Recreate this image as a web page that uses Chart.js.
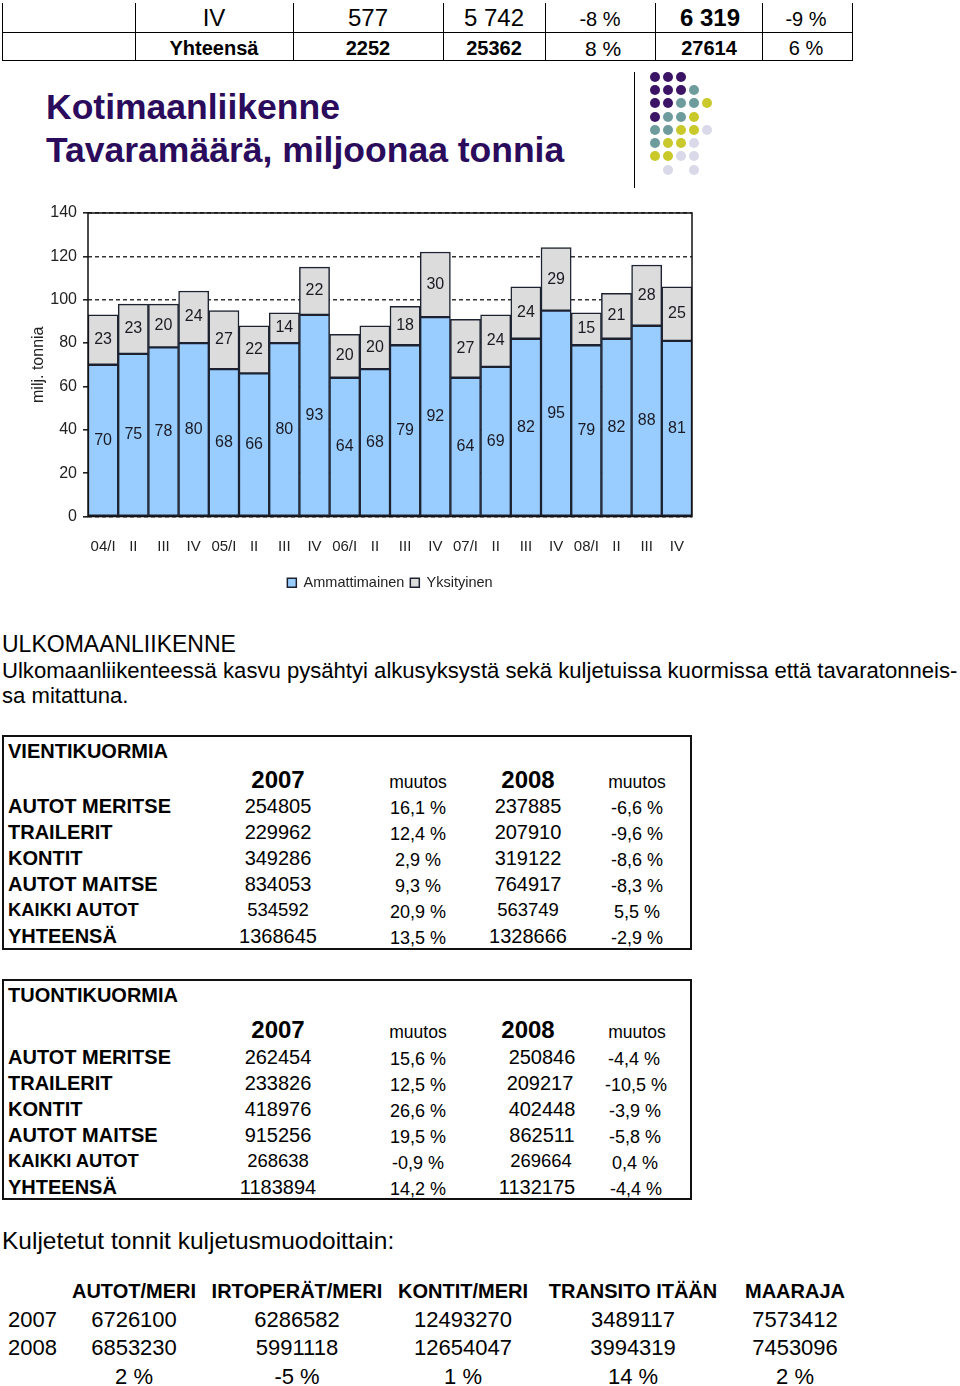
<!DOCTYPE html>
<html>
<head>
<meta charset="utf-8">
<script src="https://cdn.jsdelivr.net/npm/chart.js@4.4.0/dist/chart.umd.min.js"></script>
<style>
html,body{margin:0;padding:0;background:#fff;}
body{width:960px;height:1386px;position:relative;overflow:hidden;font-family:"Liberation Sans",Arial,Helvetica,sans-serif;color:#000;}
.t{position:absolute;white-space:nowrap;}
.ln{position:absolute;background:#000;}
#chartWrap{position:absolute;left:0;top:196px;width:720px;height:404px;}
.box{position:absolute;border:2px solid #111;box-sizing:border-box;}
.dot{position:absolute;width:10px;height:10px;border-radius:50%;}
</style>
</head>
<body>
<div id="chartWrap"><canvas id="c" width="720" height="404" style="width:720px;height:404px;"></canvas></div>
<script>
// ---- chart data ----
const categories = ["04/I","II","III","IV","05/I","II","III","IV","06/I","II","III","IV","07/I","II","III","IV","08/I","II","III","IV"];
const ammattimainen = [70,75,78,80,68,66,80,93,64,68,79,92,64,69,82,95,79,82,88,81];
const yksityinen = [23,23,20,24,27,22,14,22,20,20,18,30,27,24,24,29,15,21,28,25];
const yTicks = [0,20,40,60,80,100,120,140];
const seriesNames = ["Ammattimainen","Yksityinen"];

// ---- page text helpers ----
function put(txt, x, y, size, opts){
  opts = opts || {};
  const d = document.createElement('div');
  d.className = 't';
  d.textContent = txt;
  const lh = Math.round(size*1.2);
  d.style.fontSize = size+'px';
  d.style.lineHeight = lh+'px';
  d.style.top = (y - lh/2) + 'px';
  if (opts.bold) d.style.fontWeight = 'bold';
  if (opts.color) d.style.color = opts.color;
  if (opts.align === 'c') { d.style.left = (x-200)+'px'; d.style.width='400px'; d.style.textAlign='center'; }
  else if (opts.align === 'r') { d.style.left = (x-400)+'px'; d.style.width='400px'; d.style.textAlign='right'; }
  else d.style.left = x+'px';
  document.body.appendChild(d);
}
function line(x,y,w,h){
  const d=document.createElement('div'); d.className='ln';
  d.style.left=x+'px'; d.style.top=y+'px'; d.style.width=w+'px'; d.style.height=h+'px';
  document.body.appendChild(d);
}

// top table fragment
[2,135,293,443,545,655,762,852].forEach(x=>line(x,3,1,58));
line(2,32,851,1); line(2,60,851,1);
put("IV",214,17,24,{align:'c'});
put("577",368,17,24,{align:'c'});
put("5 742",494,17,24,{align:'c'});
put("-8 %",600,19,20,{align:'c'});
put("6 319",710,17,24,{align:'c',bold:true});
put("-9 %",806,19,20,{align:'c'});
put("Yhteensä",214,48,20,{align:'c',bold:true});
put("2252",368,48,20,{align:'c',bold:true});
put("25362",494,48,20,{align:'c',bold:true});
put("8 %",603,48,21,{align:'c'});
put("27614",709,48,20,{align:'c',bold:true});
put("6 %",806,48,20,{align:'c'});

// title
put("Kotimaanliikenne",46,107,35.5,{bold:true,color:'#2a0b5c'});
put("Tavaramäärä, miljoonaa tonnia",46,150,35.5,{bold:true,color:'#2a0b5c'});
line(634,72,1,116);

// decorative dots
const P='#3b1466', T='#6e9b9b', Y='#c9c92b', L='#d9d9ea';
const dotGrid = [
  [P,P,P,null,null],
  [P,P,P,T,null],
  [P,P,T,T,Y],
  [P,T,T,Y,null],
  [T,T,Y,Y,L],
  [T,Y,Y,L,null],
  [Y,Y,L,L,null],
  [null,L,null,L,null]
];
const dotX=[655,668,681,694,707], dotY=[77,90,103,117,130,143,156,170];
dotGrid.forEach((row,r)=>row.forEach((c,k)=>{ if(!c) return;
  const d=document.createElement('div'); d.className='dot'; d.style.background=c;
  d.style.left=(dotX[k]-5)+'px'; d.style.top=(dotY[r]-5)+'px'; document.body.appendChild(d);}));

// ULKOMAANLIIKENNE
put("ULKOMAANLIIKENNE",2,644,23);
put("Ulkomaanliikenteessä kasvu pysähtyi alkusyksystä sekä kuljetuissa kuormissa että tavaratonneis-",2,670,22.1);
put("sa mitattuna.",2,695,22.1);

// boxed tables
function tableBox(top, h, title, rows, ys, hdrY){
  const b=document.createElement('div'); b.className='box';
  b.style.left='2px'; b.style.top=top+'px'; b.style.width='690px'; b.style.height=h+'px';
  document.body.appendChild(b);
  put(title,8,top+16,20,{bold:true});
  put("2007",278,hdrY,24,{align:'c',bold:true});
  put("muutos",418,hdrY+3,17.5,{align:'c'});
  put("2008",528,hdrY,24,{align:'c',bold:true});
  put("muutos",637,hdrY+3,17.5,{align:'c'});
  rows.forEach((r,i)=>{
    const y=ys[i]; const small = r[0]==="KAIKKI AUTOT";
    put(r[0],8,y,small?18.4:20,{bold:true});
    put(r[1],278,y,small?18.5:20,{align:'c'});
    put(r[2],418,y+2,18,{align:'c'});
    put(r[3],r[5]||528,y,small?18.5:20,{align:'c'});
    put(r[4],r[6]||637,y+2,18,{align:'c'});
  });
}
tableBox(735,215,"VIENTIKUORMIA",[
  ["AUTOT MERITSE","254805","16,1 %","237885","-6,6 %"],
  ["TRAILERIT","229962","12,4 %","207910","-9,6 %"],
  ["KONTIT","349286","2,9 %","319122","-8,6 %"],
  ["AUTOT MAITSE","834053","9,3 %","764917","-8,3 %"],
  ["KAIKKI AUTOT","534592","20,9 %","563749","5,5 %"],
  ["YHTEENSÄ","1368645","13,5 %","1328666","-2,9 %"]
],[806,832,858,884,910,936],779);
tableBox(979,221,"TUONTIKUORMIA",[
  ["AUTOT MERITSE","262454","15,6 %","250846","-4,4 %",542,634],
  ["TRAILERIT","233826","12,5 %","209217","-10,5 %",540,636],
  ["KONTIT","418976","26,6 %","402448","-3,9 %",542,635],
  ["AUTOT MAITSE","915256","19,5 %","862511","-5,8 %",542,635],
  ["KAIKKI AUTOT","268638","-0,9 %","269664","0,4 %",541,635],
  ["YHTEENSÄ","1183894","14,2 %","1132175","-4,4 %",537,636]
],[1057,1083,1109,1135,1161,1187],1029);

// bottom table
put("Kuljetetut tonnit kuljetusmuodoittain:",2,1240,24.5);
const colX=[134,297,463,633,795];
["AUTOT/MERI","IRTOPERÄT/MERI","KONTIT/MERI","TRANSITO ITÄÄN","MAARAJA"].forEach((h,i)=>put(h,colX[i],1291,20,{align:'c',bold:true}));
put("2007",8,1320,22); put("2008",8,1348,22);
["6726100","6286582","12493270","3489117","7573412"].forEach((v,i)=>put(v,colX[i],1320,22,{align:'c'}));
["6853230","5991118","12654047","3994319","7453096"].forEach((v,i)=>put(v,colX[i],1348,22,{align:'c'}));
["2 %","-5 %","1 %","14 %","2 %"].forEach((v,i)=>put(v,colX[i],1377,22,{align:'c'}));

// ---- chart ----
const FONT = "'Liberation Sans', Arial, sans-serif";
const borderPlugin = {
  id:'areaBorder',
  afterDatasetsDraw(chart){
    const a=chart.chartArea, ctx=chart.ctx;
    ctx.save(); ctx.strokeStyle='#111'; ctx.lineWidth=1.5;
    ctx.strokeRect(a.left, a.top, a.right-a.left, a.bottom-a.top);
    ctx.restore();
  }
};
const labelPlugin = {
  id:'barLabels',
  afterDatasetsDraw(chart){
    const ctx=chart.ctx; ctx.save();
    ctx.font = "16px "+FONT; ctx.fillStyle='#1a1a22';
    ctx.textAlign='center'; ctx.textBaseline='middle';
    chart.data.datasets.forEach((ds,di)=>{
      const meta=chart.getDatasetMeta(di);
      meta.data.forEach((el,i)=>{
        const p=el.getProps(['x','y','base'],true);
        ctx.fillText(String(ds.data[i]), p.x, (p.y+p.base)/2);
      });
    });
    ctx.restore();
  }
};
new Chart(document.getElementById('c'), {
  type:'bar',
  data:{
    labels:categories,
    datasets:[
      {label:seriesNames[0], data:ammattimainen, backgroundColor:'#99ccff', borderColor:'#1c2230', borderWidth:1.5, borderSkipped:false, barPercentage:1, categoryPercentage:1},
      {label:seriesNames[1], data:yksityinen, backgroundColor:'#dcdcdc', borderColor:'#1c2230', borderWidth:1.5, borderSkipped:false, barPercentage:1, categoryPercentage:1}
    ]
  },
  options:{
    responsive:false, animation:false, devicePixelRatio:1,
    layout:{padding:{top:17,right:28,left:0,bottom:0}},
    plugins:{
      tooltip:{enabled:false},
      legend:{
        position:'bottom', fullSize:false,
        labels:{boxWidth:9, boxHeight:9, padding:6, color:'#222', font:{size:14.5, family:FONT}}
      }
    },
    scales:{
      x:{
        stacked:true,
        grid:{display:false, drawTicks:false},
        border:{display:false},
        ticks:{color:'#222', font:{size:15, family:FONT}, padding:21, maxRotation:0, autoSkip:false},
        afterFit(s){ s.height=53; }
      },
      y:{
        stacked:true, min:0, max:140,
        afterBuildTicks(s){ s.ticks = yTicks.map(v=>({value:v})); },
        grid:{color:'#333', lineWidth:1.6, drawTicks:true, tickLength:5, tickBorderDash:[], tickColor:'#222'},
        border:{display:false, dash:[4,3]},
        ticks:{color:'#222', font:{size:16, family:FONT}, padding:6},
        title:{display:true, text:'milj. tonnia', color:'#222', font:{size:16, family:FONT}, padding:{top:29,bottom:0}},
        afterFit(s){ s.width=88; }
      }
    }
  },
  plugins:[borderPlugin,labelPlugin]
});
</script>
</body>
</html>
